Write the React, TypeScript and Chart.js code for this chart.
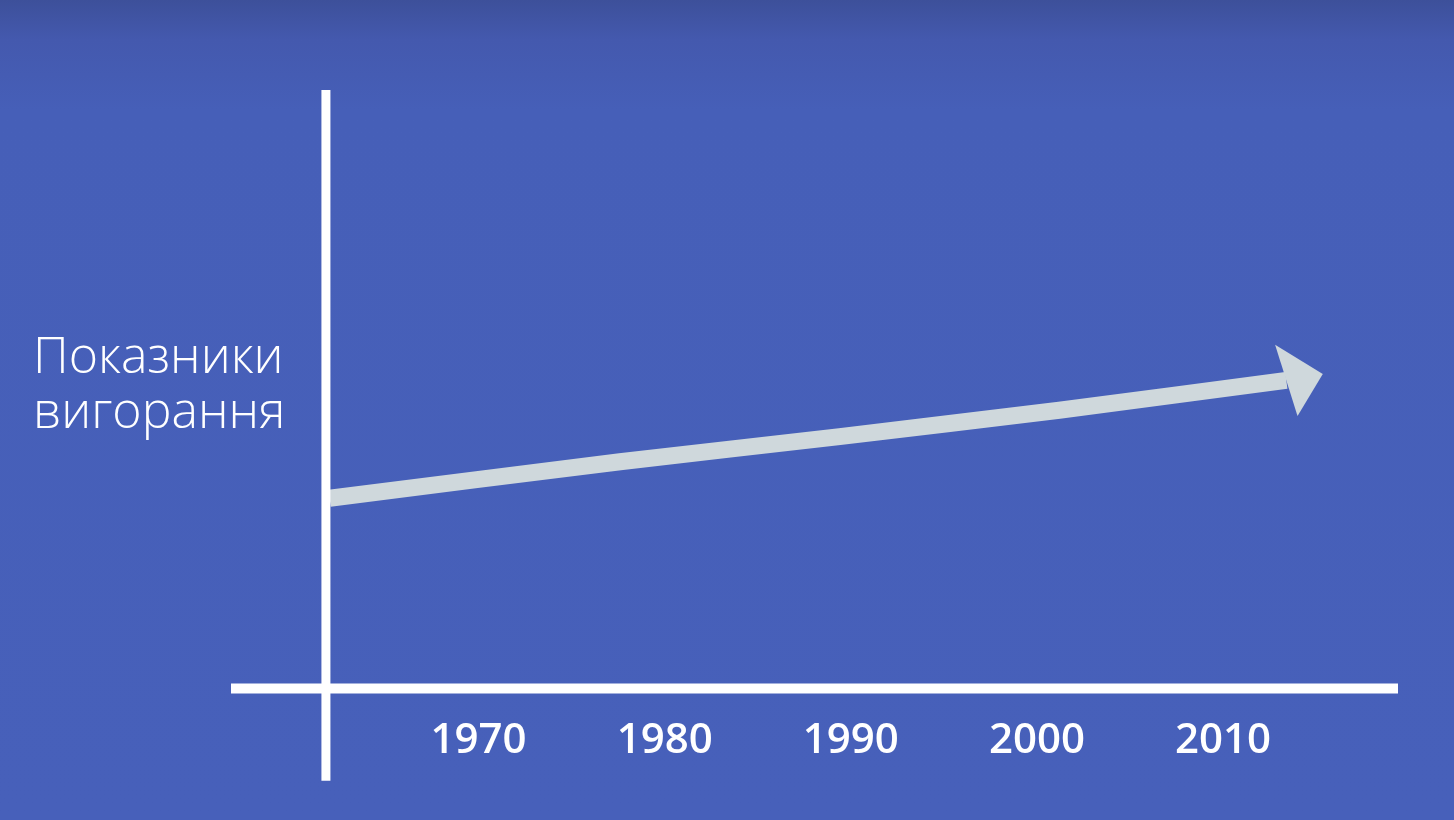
import React, { useEffect, useRef } from "react";
import { Chart, registerables } from "chart.js";

Chart.register(...registerables);

// Tick labels (years) on the horizontal axis
const tickYears = [1970, 1980, 1990, 2000, 2010];

// Axis extents (data units)
const xRange = [1956.7, 2019.4];
const yRange = [0, 100];
const yAxisYear = 1961.8;
const yAxisBottom = -15.4;

// Burnout trend arrow
const arrowYears = [1962, 1977.6, 1989.4, 2001.2, 2013.4];
const arrowValues = [31.8, 37.9, 42.1, 46.5, 51.5];

const yLabelLines = ["Показники", "вигорання"];

const arrowHeadPlugin = {
  id: "arrowHead",
  afterDatasetsDraw(chart: any) {
    const idx = chart.data.datasets.findIndex((d: any) => d.label === "arrow");
    if (idx < 0) return;
    const meta = chart.getDatasetMeta(idx);
    const pts = meta.data;
    if (pts.length < 2) return;
    const a = pts[pts.length - 2];
    const b = pts[pts.length - 1];
    const ang = Math.atan2(b.y - a.y, b.x - a.x) - 0.04;
    const half = 37;
    const depth = 37;
    const ctx = chart.ctx;
    ctx.save();
    ctx.translate(b.x, b.y);
    ctx.rotate(ang);
    ctx.beginPath();
    ctx.moveTo(-5, -half);
    ctx.lineTo(depth, 0);
    ctx.lineTo(5, half);
    ctx.closePath();
    ctx.fillStyle = "#CFD8DC";
    ctx.fill();
    ctx.restore();
  },
};

export default function App() {
  const ref = useRef<HTMLCanvasElement | null>(null);

  useEffect(() => {
    if (!ref.current) return;
    const chart = new Chart(ref.current, {
      type: "line",
      data: {
        datasets: [
          {
            label: "yAxis",
            data: [
              { x: yAxisYear, y: yAxisBottom },
              { x: yAxisYear, y: yRange[1] },
            ],
            borderColor: "#FFFFFF",
            borderWidth: 9,
            pointRadius: 0,
            clip: false as any,
            borderCapStyle: "butt",
          },
          {
            label: "xAxis",
            data: [
              { x: xRange[0], y: 0 },
              { x: xRange[1], y: 0 },
            ],
            borderColor: "#FFFFFF",
            borderWidth: 10,
            pointRadius: 0,
            clip: false as any,
            borderCapStyle: "butt",
          },
          {
            label: "arrow",
            data: arrowYears.map((x, i) => ({ x, y: arrowValues[i] })),
            borderColor: "#CFD8DC",
            borderWidth: 17,
            pointRadius: 0,
            tension: 0.2,
            clip: false as any,
            borderCapStyle: "butt",
            borderJoinStyle: "round",
          },
        ],
      },
      options: {
        responsive: false,
        animation: false,
        events: [],
        layout: { padding: { left: 231, right: 56, top: 90, bottom: 27 } },
        plugins: {
          legend: { display: false },
          tooltip: { enabled: false },
          title: { display: false },
        },
        scales: {
          x: {
            type: "linear",
            min: xRange[0],
            max: xRange[1],
            grid: { display: false, drawTicks: false },
            border: { display: false },
            afterBuildTicks: (scale: any) => {
              scale.ticks = tickYears.map((v) => ({ value: v }));
            },
            ticks: {
              autoSkip: false,
              maxRotation: 0,
              padding: 27,
              color: "#FFFFFF",
              font: { family: "'Open Sans', sans-serif", size: 42, weight: 600 },
              callback: (v: any) => String(v),
            },
          },
          y: {
            type: "linear",
            display: false,
            min: yRange[0],
            max: yRange[1],
          },
        },
      },
      plugins: [arrowHeadPlugin],
    });
    return () => chart.destroy();
  }, []);

  return (
    <div
      style={{
        position: "absolute",
        left: 0,
        top: 0,
        width: 1454,
        height: 820,
        overflow: "hidden",
        background:
          "linear-gradient(to bottom, #3D509A 0px, #4459AE 40px, #465FB8 110px, #4760BA 820px)",
      }}
    >
      <canvas
        ref={ref}
        width={1454}
        height={820}
        style={{ position: "absolute", left: 0, top: 0 }}
      />
      <div
        style={{
          position: "absolute",
          left: 33,
          top: 327,
          color: "#FFFFFF",
          fontFamily: "'Open Sans', sans-serif",
          fontWeight: 300,
          fontSize: 50,
          lineHeight: "55px",
          whiteSpace: "nowrap",
        }}
      >
        {yLabelLines.map((l) => (
          <div key={l}>{l}</div>
        ))}
      </div>
    </div>
  );
}
